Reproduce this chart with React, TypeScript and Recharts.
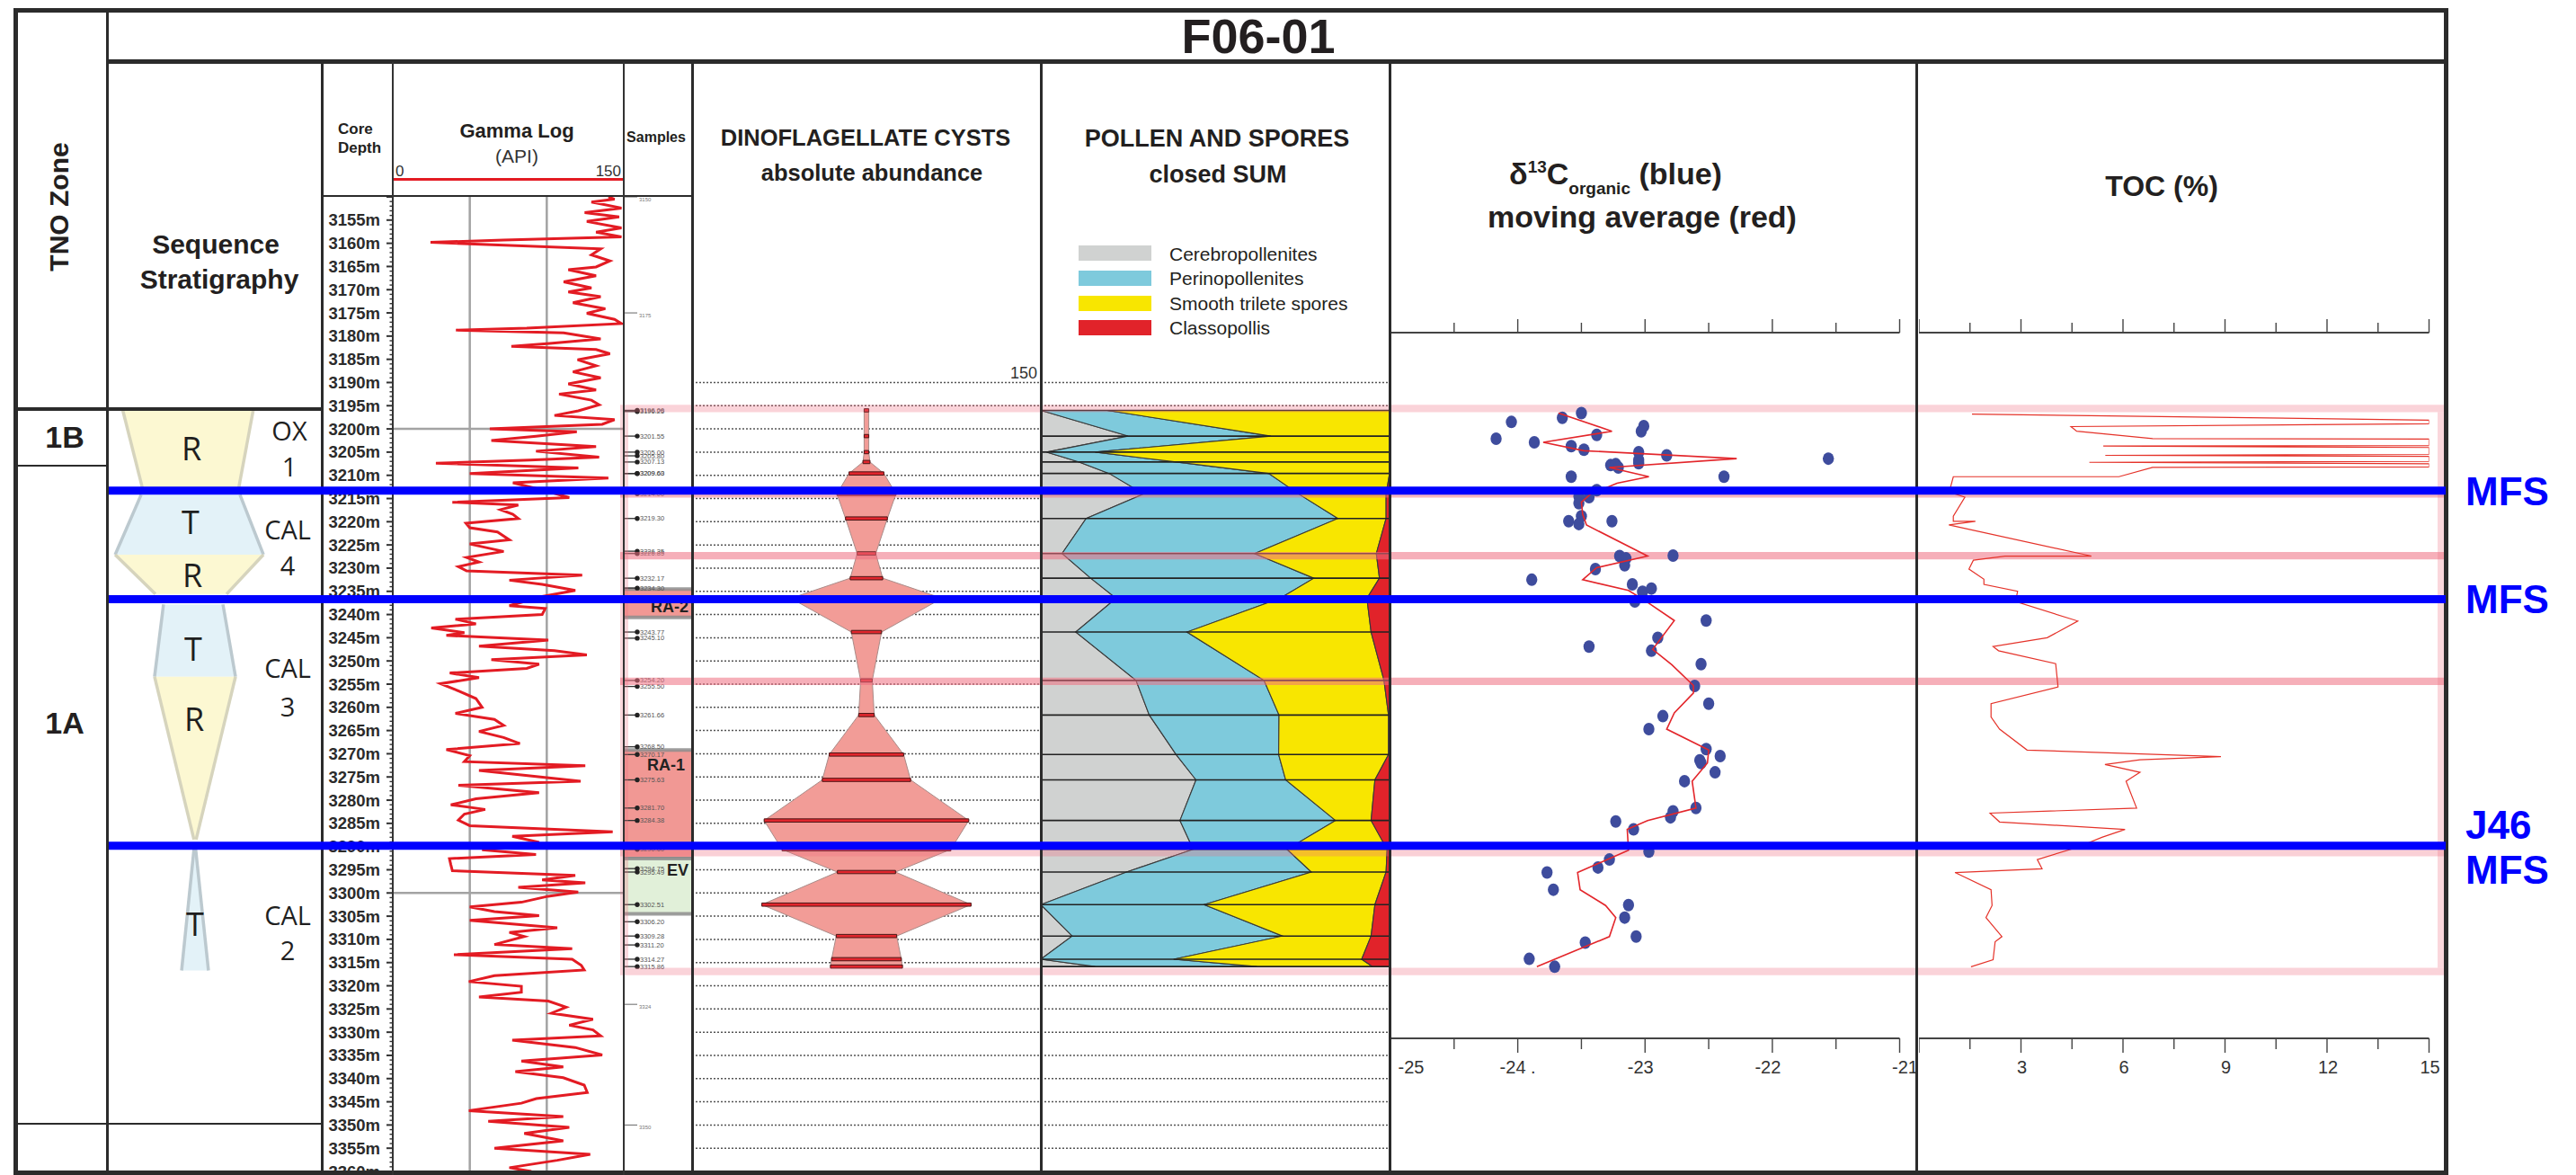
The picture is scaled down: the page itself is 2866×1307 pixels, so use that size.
import React from 'react';
import { ComposedChart, Line, Area, Scatter, XAxis, YAxis, ReferenceLine, ReferenceArea } from 'recharts';

const FONT = '"Liberation Sans", Arial, Helvetica, sans-serif';
const OPEN = '"Open Sans", "Liberation Sans", Arial, sans-serif';

// ---------------- DATA ----------------
const gammaDepth = [3150.0, 3150.5, 3151.1, 3152.4, 3153.4, 3154.3, 3155.3, 3156.7, 3157.6, 3158.6, 3159.3, 3159.8, 3160.2, 3161.2, 3162.5, 3163.8, 3165.1, 3165.7, 3167.0, 3168.3, 3169.6, 3170.5, 3171.5, 3172.8, 3174.1, 3175.1, 3176.4, 3177.3, 3178.3, 3178.7, 3179.3, 3180.6, 3181.6, 3182.2, 3182.9, 3183.8, 3185.1, 3186.4, 3187.7, 3189.0, 3190.3, 3191.6, 3192.5, 3193.8, 3194.8, 3196.1, 3197.1, 3198.0, 3199.0, 3200.0, 3200.6, 3201.6, 3202.5, 3203.8, 3204.8, 3206.1, 3206.7, 3207.4, 3208.4, 3209.6, 3210.6, 3211.6, 3213.5, 3214.8, 3215.8, 3216.4, 3217.4, 3218.4, 3219.3, 3220.3, 3221.3, 3222.2, 3223.9, 3224.8, 3226.4, 3227.7, 3228.7, 3229.7, 3230.6, 3231.5, 3232.6, 3233.5, 3234.8, 3236.1, 3238.1, 3238.7, 3240.0, 3241.0, 3242.0, 3242.9, 3243.9, 3244.5, 3245.5, 3246.8, 3247.8, 3248.7, 3249.7, 3250.7, 3251.6, 3252.6, 3253.6, 3254.9, 3256.2, 3258.1, 3260.0, 3261.3, 3262.6, 3263.9, 3265.2, 3266.5, 3267.8, 3269.1, 3270.4, 3271.7, 3272.6, 3273.6, 3275.9, 3276.8, 3278.4, 3279.7, 3281.0, 3282.0, 3283.0, 3284.3, 3285.5, 3286.8, 3287.8, 3289.1, 3290.7, 3291.7, 3292.6, 3293.9, 3295.2, 3296.2, 3297.2, 3297.8, 3298.8, 3299.8, 3300.7, 3302.0, 3303.0, 3304.0, 3304.9, 3305.9, 3307.5, 3308.5, 3309.4, 3311.1, 3312.0, 3313.3, 3314.3, 3315.6, 3316.6, 3317.8, 3319.1, 3320.1, 3321.4, 3322.4, 3323.3, 3324.6, 3325.9, 3327.2, 3328.5, 3329.5, 3330.8, 3331.7, 3333.3, 3334.9, 3336.2, 3337.5, 3338.5, 3339.8, 3341.4, 3343.0, 3344.3, 3345.3, 3346.9, 3348.2, 3349.2, 3350.5, 3351.8, 3353.4, 3355.0, 3356.3, 3357.6, 3359.2, 3360.0];
const gammaApi = [140, 144, 129, 148.5, 124.6, 147, 126, 148.5, 132, 148.5, 72, 24.5, 57, 135, 129, 141, 132, 114, 132, 111, 129, 114, 135, 117, 138, 126, 144, 148.5, 87, 41, 111, 135, 102, 77, 132, 141, 120, 132, 117, 135, 114, 132, 108, 129, 134, 120.5, 105, 144, 136, 63, 119.5, 93, 64, 132, 93, 134, 89, 28, 120.5, 50, 140, 78, 101, 114.6, 38.7, 81.5, 70, 78, 81.5, 47.5, 50, 68, 75.7, 50, 72, 48, 56, 42.6, 48, 123, 75.7, 97, 118.5, 97, 75.7, 99, 97, 40.7, 54, 25, 46.5, 34.8, 101, 56, 105, 126, 64, 95, 87, 37, 56, 31, 40.7, 54, 58, 40.7, 66, 72, 56, 72, 82.5, 34.8, 50, 46.5, 125, 56, 122, 42.6, 95, 54, 37.7, 60, 46.5, 42.6, 50, 142.8, 77.6, 95, 58, 93, 36.8, 37.7, 38.7, 118.5, 97, 125, 81.5, 120.4, 101, 83.5, 50, 66, 95, 50, 106.8, 75.7, 85.4, 66, 116.5, 39.7, 116.5, 122.4, 124.3, 66, 49.4, 83.5, 83.5, 56, 101, 112.6, 103, 130, 114.6, 130, 135, 77.6, 118.5, 136, 83.5, 110.7, 79.6, 110.7, 124.3, 126.3, 93.2, 83.5, 49.4, 110.7, 62, 114.6, 85.4, 110.7, 66, 128.2, 106.8, 75.7, 90];

const sampleDepth = [3196.0, 3196.25, 3201.55, 3205.0, 3205.8, 3207.13, 3209.6, 3209.63, 3214.0, 3219.3, 3226.35, 3226.85, 3232.17, 3234.3, 3243.77, 3245.1, 3254.2, 3255.5, 3261.66, 3268.5, 3270.17, 3275.63, 3281.7, 3284.38, 3290.6, 3294.75, 3295.49, 3302.51, 3306.2, 3309.28, 3311.2, 3314.27, 3315.86];
const sampleScaleDepth = [3150, 3175, 3324, 3350];
const sampleBoxes = [
  { name: 'RA-2', top: 3234.5, bottom: 3240.6 },
  { name: 'RA-1', top: 3269.2, bottom: 3292.6 },
  { name: 'EV', top: 3292.6, bottom: 3304.5 },
];

const dinoDepth = [3196.0, 3201.55, 3205.0, 3207.13, 3209.6, 3214.0, 3219.3, 3226.85, 3232.17, 3236.5, 3243.77, 3254.2, 3261.66, 3270.17, 3275.63, 3284.38, 3290.6, 3295.49, 3302.51, 3309.28, 3314.27, 3315.86];
const dinoAbundance = [2, 2, 2, 3, 15, 25.4, 18, 8, 14, 65, 13, 5, 6.7, 32, 38, 88, 72.6, 25, 90, 26, 30, 31];

const pollenDepth = [3196.0, 3201.55, 3205.0, 3207.13, 3209.6, 3214.0, 3219.3, 3226.85, 3232.17, 3236.5, 3243.77, 3254.2, 3261.66, 3270.17, 3275.63, 3284.38, 3290.6, 3295.49, 3302.51, 3309.28, 3314.27, 3315.86];
const cerebropollenites = [0, 25, 1.7, 11, 19.6, 29.5, 13, 6.1, 14.3, 21.6, 10, 27.3, 31.1, 38.8, 44.5, 39.9, 43.7, 24.6, 0, 9, 0, 15.6];
const perinopollenites = [19, 41, 13.9, 27.8, 45.7, 44.4, 72.2, 55.2, 64, 47, 31.9, 36.7, 37.2, 29.4, 25.7, 44.6, 26.9, 53, 46.8, 60.3, 38.1, 46.4];
const smoothTrileteSpores = [81, 34, 84.4, 61.2, 34.7, 25.1, 13.8, 34.9, 18.8, 24.9, 52.8, 34.4, 31.4, 31.5, 25.6, 10.2, 28.7, 21.4, 49, 25.4, 53.9, 33.1];
const classopollis = [0, 0, 0, 0, 0, 1, 1, 3.8, 2.9, 6.5, 5.3, 1.6, 0.3, 0.3, 4.2, 5.3, 0.7, 1, 4.2, 5.3, 8, 4.9];
const pollenNames = ['Cerebropollenites', 'Perinopollenites', 'Smooth trilete spores', 'Classopollis'];

const d13cDepth = [3196.6, 3197.6, 3198.5, 3199.4, 3200.5, 3202.1, 3202.9, 3201.3, 3203.7, 3204.5, 3205.0, 3205.7, 3206.7, 3206.4, 3207.8, 3207.6, 3208.3, 3207.4, 3210.3, 3210.3, 3213.2, 3214.5, 3214.7, 3216.0, 3218.8, 3219.9, 3220.5, 3219.9, 3227.4, 3227.9, 3229.4, 3227.3, 3230.2, 3232.5, 3233.5, 3235.1, 3234.4, 3237.2, 3241.3, 3245.0, 3246.9, 3247.8, 3250.7, 3255.4, 3259.2, 3261.9, 3264.7, 3269.0, 3270.5, 3271.4, 3272.0, 3274.0, 3275.9, 3281.7, 3282.4, 3283.7, 3284.6, 3286.3, 3291.1, 3292.8, 3294.5, 3295.6, 3299.3, 3302.6, 3305.3, 3309.4, 3310.7, 3314.2, 3315.9];
const d13cOrganic = [-23.5, -23.65, -24.05, -23.01, -23.03, -24.17, -23.87, -23.38, -23.58, -23.48, -23.05, -22.83, -23.05, -21.56, -23.27, -23.23, -23.21, -23.05, -23.58, -22.38, -23.38, -23.52, -23.44, -23.52, -23.5, -23.6, -23.52, -23.26, -23.2, -23.15, -23.16, -22.78, -23.39, -23.89, -23.1, -23.02, -22.95, -23.08, -22.52, -22.9, -23.44, -22.95, -22.56, -22.61, -22.5, -22.86, -22.97, -22.52, -22.41, -22.57, -22.56, -22.45, -22.69, -22.6, -22.78, -22.8, -23.23, -23.09, -22.97, -23.28, -23.37, -23.77, -23.72, -23.13, -23.16, -23.07, -23.47, -23.91, -23.71];
const movingAvgDepth = [3196.6, 3200.5, 3202.9, 3204.7, 3206.4, 3208.3, 3210.3, 3211.7, 3214.1, 3215.8, 3218.4, 3220.7, 3227.4, 3229.9, 3232.5, 3234.8, 3237.0, 3241.3, 3247.5, 3250.8, 3255.3, 3256.9, 3261.2, 3264.7, 3269.2, 3272.0, 3275.9, 3281.7, 3284.4, 3286.3, 3290.8, 3295.6, 3299.3, 3302.7, 3305.3, 3309.4, 3315.9];
const movingAvg = [-23.68, -23.26, -23.8, -23.48, -22.28, -23.28, -22.97, -23.22, -23.43, -23.5, -23.49, -23.46, -22.98, -23.38, -23.49, -23.13, -23.0, -22.77, -22.94, -22.79, -22.62, -22.62, -22.77, -22.83, -22.5, -22.51, -22.63, -22.6, -22.98, -23.14, -23.13, -23.53, -23.51, -23.31, -23.23, -23.28, -23.85];
const d13cTicks = [-25, -24.5, -24, -23.5, -23, -22.5, -22, -21.5, -21];
const d13cTickLabels = ['-25', '', '-24 .', '', '-23', '', '-22', '', '-21'];

const tocDepth = [3196.8, 3198.1, 3198.9, 3199.5, 3200.5, 3202.1, 3202.2, 3203.6, 3203.7, 3204.0, 3205.5, 3205.7, 3205.9, 3207.0, 3207.2, 3207.5, 3208.2, 3208.3, 3210.3, 3210.3, 3213.6, 3214.7, 3218.8, 3219.9, 3219.9, 3220.7, 3227.4, 3227.4, 3228.3, 3230.2, 3232.4, 3233.5, 3235.0, 3237.2, 3241.4, 3245.0, 3246.9, 3247.8, 3250.6, 3255.6, 3259.2, 3262.1, 3264.7, 3269.2, 3270.6, 3271.3, 3272.3, 3274.0, 3275.9, 3281.7, 3282.8, 3284.7, 3286.3, 3288.0, 3290.2, 3292.8, 3294.8, 3295.6, 3299.3, 3302.7, 3305.3, 3309.4, 3310.5, 3314.4, 3315.9];
const tocPercent = [1.56, 15, 15, 4.47, 4.64, 6.87, 15, 15, 5.42, 15, 15, 5.48, 15, 15, 5.01, 15, 15, 6.87, 5.88, 1.01, 0.89, 1.35, 1.01, 1.01, 1.66, 0.88, 5.07, 2.53, 1.6, 1.47, 1.91, 1.91, 2.9, 2.84, 4.67, 3.77, 2.18, 2.34, 4.02, 4.09, 2.12, 2.12, 2.37, 3.18, 8.88, 6.5, 5.47, 6.5, 6.09, 6.4, 2.09, 2.37, 6.06, 5.38, 4.64, 3.48, 3.62, 1.06, 2.12, 2.15, 1.97, 2.44, 2.24, 2.18, 1.53];
const tocTicks = [0, 1.5, 3, 4.5, 6, 7.5, 9, 10.5, 12, 13.5, 15];
const tocTickLabels = ['', '', '3', '', '6', '', '9', '', '12', '', '15'];

const mfsDepth = [3213.3, 3236.7, 3289.8];
const pinkBandDepth = [3195.6, 3214.0, 3227.3, 3254.4, 3291.3, 3316.9];
const gridDepth = [3190, 3195, 3200, 3205, 3210, 3215, 3220, 3225, 3230, 3235, 3240, 3245, 3250, 3255, 3260, 3265, 3270, 3275, 3280, 3285, 3290, 3295, 3300, 3305, 3310, 3315, 3320, 3325, 3330, 3335, 3340, 3345, 3350, 3355];
const gammaGridDepth = [3200, 3300];
const gammaGridApi = [50, 100];

// sequence stratigraphy shapes: depth of top/bottom and left/right edge (% of column width)
const seqShapes = [
  { kind: 'R', top: 3196.0, bottom: 3214.0, topL: 6.6, topR: 67.8, botL: 16.5, botR: 60.5 },
  { kind: 'T', top: 3214.2, bottom: 3227.1, topL: 15.2, topR: 61.6, botL: 3.0, botR: 72.6 },
  { kind: 'R', top: 3227.1, bottom: 3235.6, topL: 3.0, topR: 72.6, botL: 21.9, botR: 55.3 },
  { kind: 'T', top: 3237.8, bottom: 3253.4, topL: 25.7, topR: 53.6, botL: 21.5, botR: 59.5 },
  { kind: 'R', top: 3253.4, bottom: 3288.5, topL: 21.5, topR: 59.5, botL: 40.0, botR: 41.0 },
  { kind: 'T', top: 3290.6, bottom: 3316.7, topL: 40.0, topR: 40.8, botL: 34.2, botR: 46.8 },
];

// ---------------- LAYOUT / STYLE ----------------
const DEPTH_MIN = 3150;
const DEPTH_MAX = 3360;
const PLOT_TOP = 219;
const PLOT_BOTTOM = 1303;
const PLOT_H = PLOT_BOTTOM - PLOT_TOP;
const PX_PER_M = PLOT_H / (DEPTH_MAX - DEPTH_MIN);
const depthAt = (y: number) => DEPTH_MIN + (y - PLOT_TOP) / PX_PER_M;
const AX_TOP = 370;
const AX_BOTTOM = 1155;
const AX_PAD_R = 30;

const COL = { seqL: 121, seqW: 237, gamL: 437, gamW: 257, smpL: 694, smpW: 76, dinoL: 770, dinoW: 388, polL: 1158, polW: 388, d13L: 1546.5, d13W: 566.5, tocL: 2135.3, tocW: 567.5 };
const POLLEN_COLORS = ['#d0d2d1', '#7ecadc', '#f8e600', '#e1232a'];
const PINK_OPACITY = [0.3, 0.5, 0.55, 0.55, 0.32, 0.3];
const BOX_FILL: Record<string, string> = { 'RA-2': '#ef8a85', 'RA-1': '#ef8a85', EV: '#ddeed4' };
const BOX_LABEL_POS: Record<string, string> = { 'RA-2': 'insideBottomRight', 'RA-1': 'insideTopRight', EV: 'insideTopRight' };
const BOX_LABEL_OFFSET: Record<string, number> = { 'RA-2': 6, 'RA-1': 10, EV: 6 };
const depthTicks = Array.from({ length: DEPTH_MAX - DEPTH_MIN + 1 }, (_, i) => DEPTH_MIN + i);

const gammaRows = gammaDepth.map((depth, i) => ({ depth, gamma: gammaApi[i] }));
const dinoRows = dinoDepth.map((depth, i) => ({ depth, v: [-dinoAbundance[i] / 2, dinoAbundance[i] / 2] }));
const pollenRows = pollenDepth.map((depth, i) => {
  const g = cerebropollenites[i], b = perinopollenites[i], y = smoothTrileteSpores[i], r = classopollis[i];
  return { depth, s0: [0, g], s1: [g, g + b], s2: [g + b, g + b + y], s3: [g + b + y, g + b + y + r] };
});
const d13cRows = d13cDepth.map((depth, i) => ({ depth, v: d13cOrganic[i] }));
const maRows = movingAvgDepth.map((depth, i) => ({ depth, v: movingAvg[i] }));
const tocRows = tocDepth.map((depth, i) => ({ depth, v: tocPercent[i] }));
const sampleRows = sampleDepth.map((depth) => ({ depth, x: 15, label: depth.toFixed(2) }));
const sampleScaleRows = sampleScaleDepth.map((depth) => ({ depth, x: 15, label: String(depth) }));
const dummyRows = [{ depth: DEPTH_MIN }, { depth: DEPTH_MAX }];

function DepthPanel({ left, width, top = PLOT_TOP, height = PLOT_H, xDomain, yDomain = [DEPTH_MIN, DEPTH_MAX], data, xKey, children }: any) {
  return (
    <div style={{ position: 'absolute', left, top, width, height }}>
      <ComposedChart width={width} height={height} layout="vertical" data={data} margin={{ top: 0, right: 0, bottom: 0, left: 0 }} style={{ overflow: 'visible' }}>
        <XAxis type="number" dataKey={xKey} domain={xDomain} hide allowDataOverflow />
        <YAxis type="number" dataKey="depth" domain={yDomain} hide allowDataOverflow />
        {children}
      </ComposedChart>
    </div>
  );
}

const DepthTick = (props: any) => {
  const { x, y, payload } = props;
  const v = payload.value;
  const major = v % 5 === 0;
  return (
    <g>
      <line x1={x - (major ? 7 : 3.5)} x2={x} y1={y} y2={y} stroke="#333" strokeWidth={major ? 2 : 1.4} />
      {major && v !== DEPTH_MIN && (
        <text x={x - 14} y={y} dy={6.5} textAnchor="end" fontSize={18.5} fontWeight="bold" fill="#2b2b2b" fontFamily={FONT}>{`${v}m`}</text>
      )}
    </g>
  );
};

function makeAxisTick(side: 'top' | 'bottom', ticks: number[], labels: string[], majorEvery: number, dxFor: (i: number) => number) {
  return (props: any) => {
    const { x, y, payload } = props;
    const v = payload.value;
    const idx = ticks.findIndex((t) => Math.abs(t - v) < 1e-6);
    const major = Math.abs(v / majorEvery - Math.round(v / majorEvery)) < 1e-6;
    const len = side === 'top' ? (major ? 15 : 11) : (major ? 16 : 12);
    const y2 = side === 'top' ? y - len : y + len;
    const lab = side === 'bottom' && idx >= 0 ? labels[idx] : '';
    return (
      <g>
        <line x1={x} x2={x} y1={y} y2={y2} stroke="#444" strokeWidth={1.4} />
        {lab && (
          <text x={x + dxFor(idx)} y={y + 39} textAnchor="middle" fontSize={20} fill="#333" fontFamily={FONT}>{lab}</text>
        )}
      </g>
    );
  };
}

const d13TopTick = makeAxisTick('top', d13cTicks, d13cTickLabels, 1, () => 0);
const d13BotTick = makeAxisTick('bottom', d13cTicks, d13cTickLabels, 1, (i) => (i === 0 ? 23 : i === 2 ? 0 : i === d13cTicks.length - 1 ? 6 : -5));
const tocTopTick = makeAxisTick('top', tocTicks, tocTickLabels, 3, () => 0);
const tocBotTick = makeAxisTick('bottom', tocTicks, tocTickLabels, 3, () => 1);

const SampleMark = (p: any) => {
  const { cx, cy, payload } = p;
  return (
    <g>
      <line x1={cx - 15} x2={cx} y1={cy} y2={cy} stroke="#333" strokeWidth={1.3} />
      <circle cx={cx} cy={cy} r={2.7} fill="#222" />
      <text x={cx + 3} y={cy} dy={2.6} fontSize={7.5} fill="#555" fontFamily={FONT}>{payload.label}</text>
    </g>
  );
};
const ScaleMark = (p: any) => {
  const { cx, cy, payload } = p;
  return (
    <g>
      <line x1={cx - 15} x2={cx} y1={cy} y2={cy} stroke="#666" strokeWidth={1} />
      <text x={cx + 2} y={cy} dy={4.5} fontSize={6} fill="#777" fontFamily={FONT}>{payload.label}</text>
    </g>
  );
};
const DotMark = (p: any) => <ellipse cx={p.cx} cy={p.cy} rx={6.2} ry={7} fill="#3e4c9d" />;

const Txt = ({ x, y, size, bold = true, anchor = 'middle', color = '#231f20', family = FONT, children, style }: any) => (
  <div
    style={{
      position: 'absolute', left: x, top: y, fontSize: size, fontWeight: bold ? 700 : 400, color, fontFamily: family,
      lineHeight: 1, whiteSpace: 'nowrap',
      transform: `translate(${anchor === 'middle' ? '-50%' : anchor === 'end' ? '-100%' : '0'}, -50%)`, ...style,
    }}
  >
    {children}
  </div>
);
const Box = ({ l, t, w, h, c = '#2b2b2b' }: any) => <div style={{ position: 'absolute', left: l, top: t, width: w, height: h, background: c }} />;

export default function App() {
  return (
    <div style={{ position: 'absolute', left: 0, top: 0, width: 2866, height: 1307, background: '#fff', overflow: 'hidden', fontFamily: FONT }}>
      {/* sequence stratigraphy shapes */}
      {seqShapes.map((s, i) => (
        <DepthPanel key={`seq${i}`} left={COL.seqL} width={COL.seqW} xDomain={[0, 100]} data={[{ depth: s.top, v: [s.topL, s.topR] }, { depth: s.bottom, v: [s.botL, s.botR] }]}>
          <Area dataKey="v" type="linear" fill={s.kind === 'R' ? '#fcf8d2' : '#e3f2f8'} fillOpacity={1} stroke={s.kind === 'R' ? '#d6d4bd' : '#bcc9cf'} strokeWidth={3.5} dot={false} activeDot={false} isAnimationActive={false} />
        </DepthPanel>
      ))}

      {/* gamma grid */}
      <DepthPanel left={COL.gamL} width={COL.gamW} xDomain={[0, 150]} data={dummyRows}>
        {gammaGridApi.map((v) => <ReferenceLine key={`gx${v}`} x={v} stroke="#a3a3a3" strokeWidth={2.5} />)}
        {gammaGridDepth.map((d) => <ReferenceLine key={`gy${d}`} y={d} stroke="#a3a3a3" strokeWidth={2.5} />)}
      </DepthPanel>

      {/* depth axis + gamma log */}
      <div style={{ position: 'absolute', left: 358, top: PLOT_TOP, width: 336, height: PLOT_H }}>
        <ComposedChart width={336} height={PLOT_H} layout="vertical" data={gammaRows} margin={{ top: 0, right: 0, bottom: 0, left: 0 }}>
          <XAxis type="number" domain={[0, 150]} hide allowDataOverflow />
          <YAxis type="number" dataKey="depth" domain={[DEPTH_MIN, DEPTH_MAX]} allowDataOverflow width={79} ticks={depthTicks} interval={0} tick={DepthTick} tickLine={false} axisLine={false} tickSize={0} tickMargin={0} />
          <Line dataKey="gamma" type="linear" stroke="#e31b23" strokeWidth={3} dot={false} activeDot={false} isAnimationActive={false} />
        </ComposedChart>
      </div>

      {/* samples */}
      <DepthPanel left={COL.smpL} width={COL.smpW} xDomain={[0, 76]} xKey="x">
        <Scatter data={sampleScaleRows} shape={ScaleMark} isAnimationActive={false} />
        <Scatter data={sampleRows} shape={SampleMark} isAnimationActive={false} />
        {sampleBoxes.map((b) => (
          <ReferenceArea key={b.name} x1={-1} x2={78} y1={b.top} y2={b.bottom} ifOverflow="visible" fill={BOX_FILL[b.name]} fillOpacity={0.88} stroke="#8d8d8d" strokeOpacity={0.85} strokeWidth={4}
            label={{ value: b.name, position: BOX_LABEL_POS[b.name], offset: BOX_LABEL_OFFSET[b.name], fontSize: 18, fontWeight: 'bold', fill: '#222', fontFamily: FONT }} />
        ))}
      </DepthPanel>

      {/* dotted depth grid in dino + pollen */}
      <DepthPanel left={COL.dinoL} width={COL.dinoW + COL.polW} xDomain={[0, 1]} data={dummyRows}>
        {gridDepth.map((d) => <ReferenceLine key={`g${d}`} y={d} stroke="#555" strokeWidth={1.5} strokeDasharray="2 2" />)}
      </DepthPanel>

      {/* dinoflagellate cysts kite diagram */}
      <DepthPanel left={COL.dinoL} width={COL.dinoW} xDomain={[-75, 75]} data={dinoRows}>
        <Area dataKey="v" type="linear" fill="#f29c97" fillOpacity={1} stroke="#a98b88" strokeWidth={1} dot={false} activeDot={false} isAnimationActive={false} />
      </DepthPanel>
      <DepthPanel left={COL.dinoL} width={COL.dinoW} xDomain={[-75, 75]} data={dinoRows}>
        {dinoDepth.map((d, i) => (
          <ReferenceArea key={`db${i}`} x1={-dinoAbundance[i] / 2} x2={dinoAbundance[i] / 2} y1={d - 0.35} y2={d + 0.35} ifOverflow="visible" fill="#e3262d" fillOpacity={1} stroke="#4a1515" strokeWidth={1} />
        ))}
      </DepthPanel>

      {/* pollen and spores stacked */}
      <DepthPanel left={COL.polL} width={COL.polW} xDomain={[0, 100]} data={pollenRows}>
        {['s0', 's1', 's2', 's3'].map((k, i) => (
          <Area key={k} dataKey={k} type="linear" fill={POLLEN_COLORS[i]} fillOpacity={1} stroke="#3a3a3a" strokeWidth={1.1} dot={false} activeDot={false} isAnimationActive={false} />
        ))}
      </DepthPanel>
      <DepthPanel left={COL.polL} width={COL.polW} xDomain={[0, 100]} data={pollenRows}>
        {pollenDepth.map((d) => <ReferenceLine key={`pl${d}`} y={d} stroke="#222" strokeWidth={1.6} />)}
      </DepthPanel>

      {/* pink sampled-interval bands */}
      <DepthPanel left={121} width={2600} xDomain={[121, 2721]} data={dummyRows}>
        {pinkBandDepth.map((d, i) => (
          <ReferenceArea key={`pb${i}`} x1={690} x2={2720} y1={d - 0.8} y2={d + 0.8} fill="#ee6e80" fillOpacity={PINK_OPACITY[i]} stroke="none" />
        ))}
        <ReferenceArea x1={690} x2={699} y1={pinkBandDepth[0] + 0.8} y2={pinkBandDepth[5] - 0.8} fill="#ee6e80" fillOpacity={0.28} stroke="none" />
        <ReferenceArea x1={2712} x2={2720} y1={pinkBandDepth[0] + 0.8} y2={pinkBandDepth[5] - 0.8} fill="#ee6e80" fillOpacity={0.28} stroke="none" />
      </DepthPanel>

      {/* delta 13C scatter with axes */}
      <div style={{ position: 'absolute', left: COL.d13L, top: AX_TOP - 20, width: COL.d13W + AX_PAD_R, height: AX_BOTTOM - AX_TOP + 70 }}>
        <ComposedChart width={COL.d13W + AX_PAD_R} height={AX_BOTTOM - AX_TOP + 70} layout="vertical" margin={{ top: 0, right: AX_PAD_R, bottom: 0, left: 0 }}>
          <XAxis xAxisId="t" orientation="top" type="number" dataKey="v" domain={[-25, -21]} allowDataOverflow height={20} ticks={d13cTicks} interval={0} tick={d13TopTick} tickLine={false} tickSize={0} tickMargin={0} axisLine={{ stroke: '#444', strokeWidth: 2 }} />
          <XAxis xAxisId="b" orientation="bottom" type="number" dataKey="v" domain={[-25, -21]} allowDataOverflow height={50} ticks={d13cTicks} interval={0} tick={d13BotTick} tickLine={false} tickSize={0} tickMargin={0} axisLine={{ stroke: '#444', strokeWidth: 2 }} />
          <YAxis type="number" dataKey="depth" domain={[depthAt(AX_TOP), depthAt(AX_BOTTOM)]} hide allowDataOverflow />
          <Scatter xAxisId="b" data={d13cRows} shape={DotMark} isAnimationActive={false} />
        </ComposedChart>
      </div>
      <DepthPanel left={COL.d13L} width={COL.d13W} top={AX_TOP} height={AX_BOTTOM - AX_TOP} xDomain={[-25, -21]} yDomain={[depthAt(AX_TOP), depthAt(AX_BOTTOM)]} data={maRows}>
        <Line dataKey="v" type="linear" stroke="#e3262b" strokeWidth={1.6} dot={false} activeDot={false} isAnimationActive={false} />
      </DepthPanel>

      {/* TOC */}
      <div style={{ position: 'absolute', left: COL.tocL, top: AX_TOP - 20, width: COL.tocW + AX_PAD_R, height: AX_BOTTOM - AX_TOP + 70 }}>
        <ComposedChart width={COL.tocW + AX_PAD_R} height={AX_BOTTOM - AX_TOP + 70} layout="vertical" data={tocRows} margin={{ top: 0, right: AX_PAD_R, bottom: 0, left: 0 }}>
          <XAxis xAxisId="t" orientation="top" type="number" domain={[0, 15]} allowDataOverflow height={20} ticks={tocTicks} interval={0} tick={tocTopTick} tickLine={false} tickSize={0} tickMargin={0} axisLine={{ stroke: '#444', strokeWidth: 2 }} />
          <XAxis xAxisId="b" orientation="bottom" type="number" domain={[0, 15]} allowDataOverflow height={50} ticks={tocTicks} interval={0} tick={tocBotTick} tickLine={false} tickSize={0} tickMargin={0} axisLine={{ stroke: '#444', strokeWidth: 2 }} />
          <YAxis type="number" dataKey="depth" domain={[depthAt(AX_TOP), depthAt(AX_BOTTOM)]} hide allowDataOverflow />
          <Line xAxisId="b" dataKey="v" type="linear" stroke="#e5332a" strokeWidth={1.2} dot={false} activeDot={false} isAnimationActive={false} />
        </ComposedChart>
      </div>

      {/* ---------- texts ---------- */}
      <Txt x={1400} y={40} size={54}>F06-01</Txt>
      <Txt x={66} y={230} size={30} style={{ transform: 'translate(-50%, -50%) rotate(-90deg)' }}>TNO Zone</Txt>
      <Txt x={72} y={486} size={34}>1B</Txt>
      <Txt x={72} y={804} size={34}>1A</Txt>
      <Txt x={240} y={272} size={30}>Sequence</Txt>
      <Txt x={244} y={311} size={30}>Stratigraphy</Txt>
      {[['R', 213, 499], ['T', 212, 581], ['R', 214, 640], ['T', 215, 722], ['R', 216, 800], ['T', 217, 1028]].map(([s, x, y], i) => (
        <Txt key={`rt${i}`} x={x} y={y} size={36} bold={false} family={OPEN} color="#1f1f1f">{s}</Txt>
      ))}
      {[['OX', 322, 478], ['1', 322, 518], ['CAL', 320, 588], ['4', 320, 628], ['CAL', 320, 742], ['3', 320, 785], ['CAL', 320, 1017], ['2', 320, 1056]].map(([s, x, y], i) => (
        <Txt key={`sq${i}`} x={x} y={y} size={29} bold={false} family={OPEN} color="#1f1f1f">{s}</Txt>
      ))}
      <Txt x={376} y={143} size={17} anchor="start">Core</Txt>
      <Txt x={376} y={164} size={17} anchor="start">Depth</Txt>
      <Txt x={575} y={146} size={22}>Gamma Log</Txt>
      <Txt x={575} y={173} size={21} bold={false} color="#333">(API)</Txt>
      <Txt x={440} y={190} size={17} bold={false} anchor="start" color="#333">0</Txt>
      <Txt x={691} y={190} size={17} bold={false} anchor="end" color="#333">150</Txt>
      <Box l={437} t={197.5} w={257} h={3} c="#e31b23" />
      <Txt x={730} y={153} size={16}>Samples</Txt>
      <Txt x={963} y={154} size={25.5}>DINOFLAGELLATE CYSTS</Txt>
      <Txt x={970} y={193} size={25.5}>absolute abundance</Txt>
      <Txt x={1154} y={415} size={18} bold={false} anchor="end" color="#333">150</Txt>
      <Txt x={1354} y={154} size={27}>POLLEN AND SPORES</Txt>
      <Txt x={1355} y={194} size={27}>closed SUM</Txt>
      {pollenNames.map((n, i) => (
        <React.Fragment key={n}>
          <Box l={1200} t={273 + i * 27.8} w={81} h={17} c={POLLEN_COLORS[i]} />
          <Txt x={1301} y={282 + i * 27.3} size={21} bold={false} anchor="start" color="#231f20">{n}</Txt>
        </React.Fragment>
      ))}
      <Txt x={1679} y={193} size={34} anchor="start">
        δ<span style={{ fontSize: 19, position: 'relative', top: -13 }}>13</span>C<span style={{ fontSize: 19, position: 'relative', top: 11 }}>organic</span> (blue)
      </Txt>
      <Txt x={1827} y={241} size={34}>moving average (red)</Txt>
      <Txt x={2405} y={207} size={32}>TOC (%)</Txt>

      {/* ---------- frame ---------- */}
      <div style={{ position: 'absolute', left: 15, top: 9, width: 2709, height: 1298, border: '5px solid #2b2b2b', boxSizing: 'border-box' }} />
      <Box l={118} t={9} w={3} h={1298} />
      <Box l={118} t={66} w={2606} h={4.5} />
      <Box l={357} t={69} w={2.5} h={1238} />
      <Box l={357} t={216.5} w={414} h={2.5} />
      <Box l={436} t={69} w={2.2} h={1238} c="#333" />
      <Box l={693} t={69} w={2.2} h={1238} c="#333" />
      <Box l={768.5} t={69} w={3} h={1238} />
      <Box l={1156.5} t={69} w={3} h={1238} />
      <Box l={1544.5} t={69} w={3} h={1238} />
      <Box l={2130.5} t={69} w={3} h={1238} />
      <Box l={15} t={452.5} w={344} h={4} />
      <Box l={15} t={516.5} w={105} h={2.5} />
      <Box l={15} t={1248.5} w={344} h={2.5} />

      {/* MFS blue lines */}
      <DepthPanel left={121} width={2600} xDomain={[121, 2721]} data={dummyRows}>
        {mfsDepth.map((d) => <ReferenceLine key={`mfs${d}`} y={d} stroke="#0000ff" strokeWidth={9} />)}
      </DepthPanel>
      <Txt x={2743} y={547} size={44} anchor="start" color="#0000ff">MFS</Txt>
      <Txt x={2743} y={667} size={44} anchor="start" color="#0000ff">MFS</Txt>
      <Txt x={2743} y={918} size={44} anchor="start" color="#0000ff">J46</Txt>
      <Txt x={2743} y={968} size={44} anchor="start" color="#0000ff">MFS</Txt>
    </div>
  );
}
